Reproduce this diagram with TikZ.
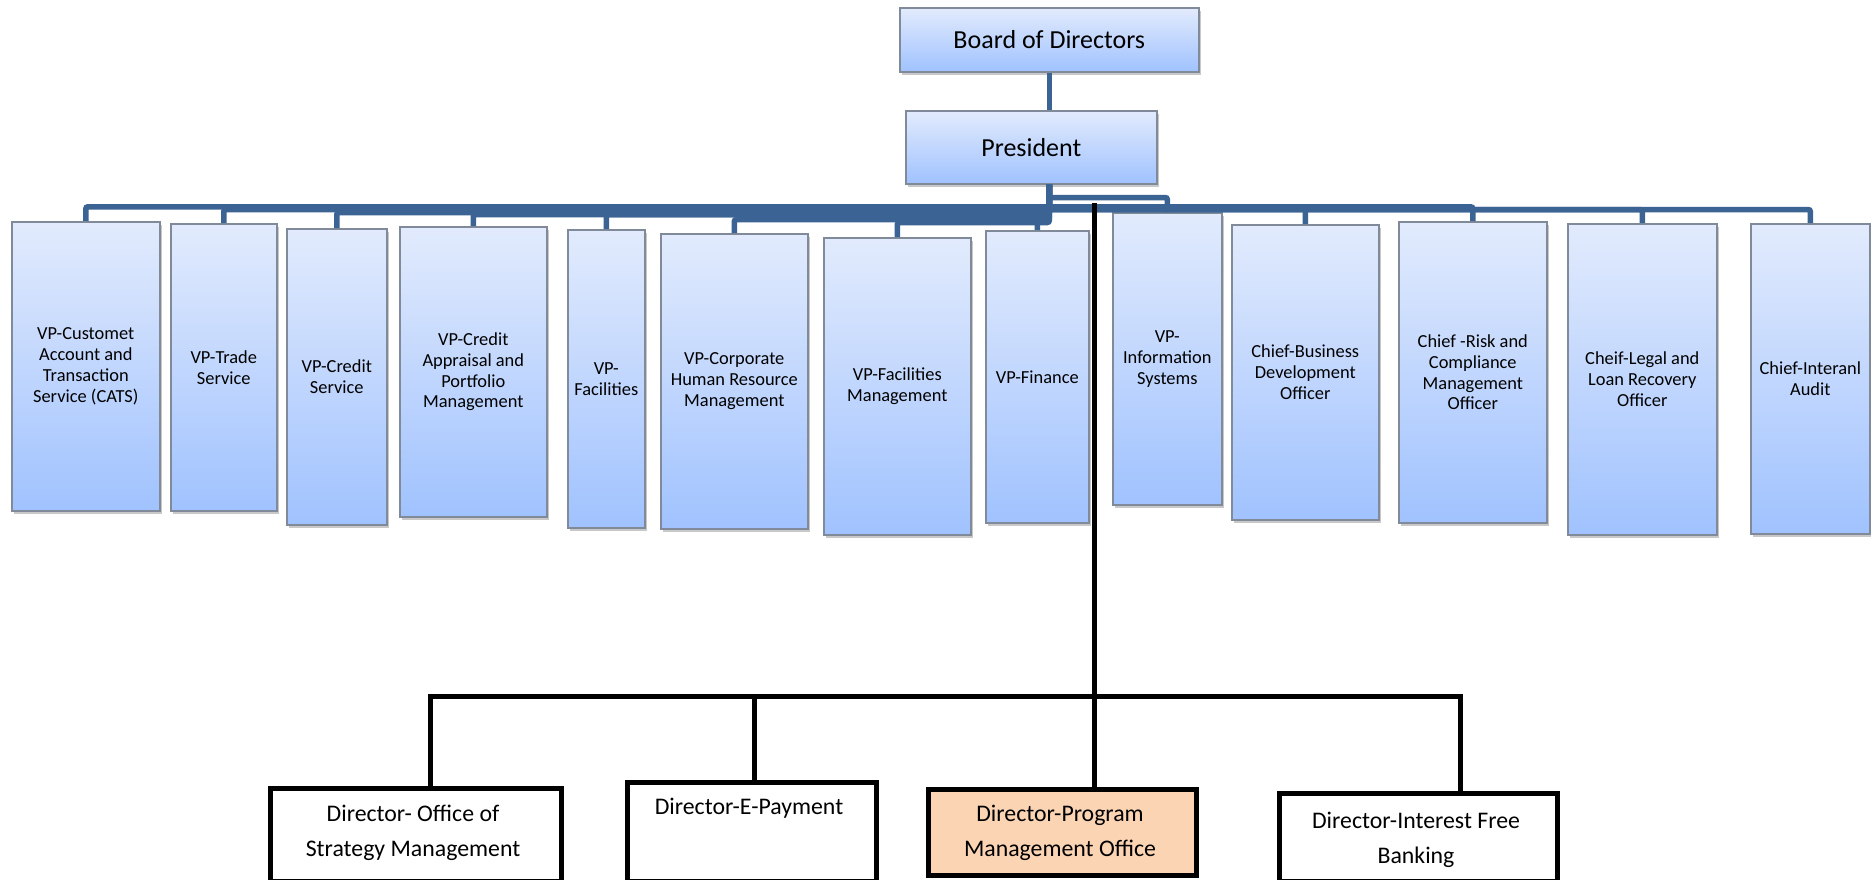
\documentclass[tikz,border=0pt]{standalone}
\usepackage{fontspec}
\setmainfont{Carlito}
\usetikzlibrary{shadows}
\definecolor{cblue}{RGB}{59,99,148}
\definecolor{bgray}{RGB}{128,138,152}
\definecolor{btop}{RGB}{226,235,253}
\definecolor{bbot}{RGB}{160,194,254}
\definecolor{peach}{RGB}{251,212,180}
\tikzset{
 vpbox/.style={draw=bgray, line width=1.6pt, top color=btop, bottom color=bbot,
   drop shadow={shadow xshift=2.5pt, shadow yshift=-3pt, opacity=0.3, fill=black!70},
   anchor=north west, align=center, inner sep=1pt,
   font=\fontsize{18.4pt}{20.8pt}\selectfont},
 topbox/.style={vpbox, font=\fontsize{26pt}{30pt}\selectfont},
 dbox/.style={draw=black, line width=5pt, fill=white, anchor=north west},
 dtext/.style={align=center, inner sep=0pt, font=\fontsize{23.8pt}{35pt}\selectfont},
 conn/.style={draw=cblue, line width=5.5pt, rounded corners=2pt},
 blk/.style={draw=black, line width=5pt, line join=miter},
}
\begin{document}
\begin{tikzpicture}[x=1pt,y=-1pt]
\useasboundingbox (0,0) rectangle (1871,880);
\clip (0,0) rectangle (1871,880);
\fill[white] (0,0) rectangle (1871,880);

% top
\node[topbox, minimum width=299pt, minimum height=64pt] (board) at (899,7) {Board of Directors};
\node[topbox, minimum width=251pt, minimum height=73pt] (pres) at (905,110) {President};
\coordinate (ps) at (board.south |- pres.south);

% VP / chief boxes
\node[vpbox, minimum width=148pt, minimum height=289pt] (b1) at (11,221) {VP-Customet\\Account and\\Transaction\\Service (CATS)};
\node[vpbox, minimum width=106pt, minimum height=287pt] (b2) at (170,223) {VP-Trade\\Service};
\node[vpbox, minimum width=100pt, minimum height=296pt] (b3) at (286,228) {VP-Credit\\Service};
\node[vpbox, minimum width=147pt, minimum height=290pt] (b4) at (399,226) {VP-Credit\\Appraisal and\\Portfolio\\Management};
\node[vpbox, minimum width=77pt, minimum height=298pt] (b5) at (567,229) {VP-\\Facilities};
\node[vpbox, minimum width=147pt, minimum height=295pt] (b6) at (660,233) {VP-Corporate\\Human Resource\\Management};
\node[vpbox, minimum width=147pt, minimum height=297pt] (b7) at (823,237) {VP-Facilities\\Management};
\node[vpbox, minimum width=103pt, minimum height=292pt] (b8) at (985,230) {VP-Finance};
\node[vpbox, minimum width=109pt, minimum height=292pt] (b9) at (1112,212) {VP-\\Information\\Systems};
\node[vpbox, minimum width=147pt, minimum height=295pt] (b10) at (1231,224) {Chief-Business\\Development\\Officer};
\node[vpbox, minimum width=148pt, minimum height=301pt] (b11) at (1398,221) {Chief -Risk and\\Compliance\\Management\\Officer};
\node[vpbox, minimum width=149pt, minimum height=311pt] (b12) at (1567,223) {Cheif-Legal and\\Loan Recovery\\Officer};
\node[vpbox, minimum width=119pt, minimum height=310pt] (b13) at (1750,223) {Chief-Interanl\\Audit};

% blue connectors
\draw[conn] (board.south) -- (board.south |- pres.north);
\draw[conn] (ps) |- (b7.north |- 0,222.5) -- (b7.north);
\draw[conn] (ps) |- (b6.north |- 0,219.5) -- (b6.north);
\draw[conn] (ps) |- (b5.north |- 0,214.5) -- (b5.north);
\draw[conn] (ps) |- (b4.north |- 0,214.5) -- (b4.north);
\draw[conn] (ps) |- (b3.north |- 0,212.5) -- (b3.north);
\draw[conn] (ps) |- (b2.north |- 0,209.5) -- (b2.north);
\draw[conn] (ps) |- (b1.north |- 0,206.8) -- (b1.north);
\draw[conn] (ps) |- (b8.north |- 0,206.8) -- (b8.north);
\draw[conn] (ps) |- (b10.north |- 0,206.8) -- (b10.north);
\draw[conn] (ps) |- (b11.north |- 0,206.8) -- (b11.north);
\draw[conn] (ps) |- (b12.north |- 0,209.5) -- (b12.north);
\draw[conn] (ps) |- (b13.north |- 0,209.5) -- (b13.north);
\draw[conn] (ps) |- (b9.north |- 0,197.5) -- (b9.north);

% director boxes
\node[dbox, minimum width=291pt, minimum height=93pt] (d1) at (268,785.5) {};
\node[dbox, minimum width=249pt, minimum height=99pt] (d2) at (625,779.5) {};
\node[dbox, fill=peach, minimum width=268pt, minimum height=86pt] (d3) at (926,786.5) {};
\node[dbox, minimum width=278pt, minimum height=88pt] (d4) at (1277,790.5) {};
\node[dtext] (d1t) at (413,833) {Director- Office of\\Strategy Management};
\node[dtext] (d2t) at (749,808) {Director-E-Payment};
\node[dtext] (d3t) at (1060,833) {Director-Program\\Management Office};
\node[dtext] (d4t) at (1416,840) {Director-Interest Free\\Banking};

% black connectors
\coordinate (bk) at (1094,203);
\coordinate (j1) at (430.5,696.5);
\coordinate (j2) at (754,696.5);
\coordinate (j4) at (1460,696.5);
\draw[blk] (bk) -- (bk |- d3.north);
\draw[blk] (j1 |- d1.north) -- (j1) -- (j4) -- (j4 |- d4.north);
\draw[blk] (j2) -- (j2 |- d2.north);
\end{tikzpicture}
\end{document}
